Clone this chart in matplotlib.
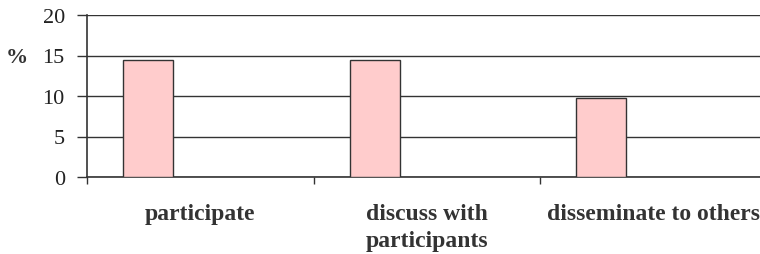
import matplotlib.pyplot as plt
import numpy as np

# values
categories = ['participate', 'discuss with\nparticipants', 'disseminate to others']
values = [14.4, 14.4, 9.7]
yticks = [0, 5, 10, 15, 20]

plt.rcParams['font.family'] = ['Liberation Serif', 'DejaVu Serif']

fig = plt.figure(figsize=(7.6, 2.55), dpi=100)
ax = fig.add_axes([87 / 760, 1 - 178 / 255, 679.5 / 760, 162 / 255])

x = np.arange(len(categories))
ax.bar(x - 0.23, values, width=0.22, color='#ffcccc', edgecolor='#333333',
       linewidth=1.0, zorder=3)

ax.set_xlim(-0.5, len(categories) - 0.5)
ax.set_ylim(0, 20)
ax.set_yticks(yticks)
ax.set_yticklabels([str(t) for t in yticks], fontsize=16, color='#222222')
ax.yaxis.grid(True, color='#333333', linewidth=1.0, zorder=1)

ax.set_xticks(np.arange(len(categories) + 1) - 0.5)
ax.set_xticklabels([])
ax.set_xticks(x, minor=True)
ax.set_xticklabels(categories, minor=True, fontsize=17, fontweight='bold',
                   color='#333333', linespacing=1.35, va='top')
ax.tick_params(axis='x', which='minor', length=0, pad=19)
ax.tick_params(axis='x', which='major', length=5, width=1, color='#333333')
ax.tick_params(axis='y', length=7, width=1, color='#333333', pad=9)

for s in ['top', 'right']:
    ax.spines[s].set_visible(False)
for s in ['left', 'bottom']:
    ax.spines[s].set_color('#333333')
    ax.spines[s].set_linewidth(1.2)

fig.text(17 / 760, 1 - 58 / 255, '%', fontsize=16, fontweight='bold',
         color='#333333', ha='center', va='center')

fig.savefig('out.png', dpi=100)
